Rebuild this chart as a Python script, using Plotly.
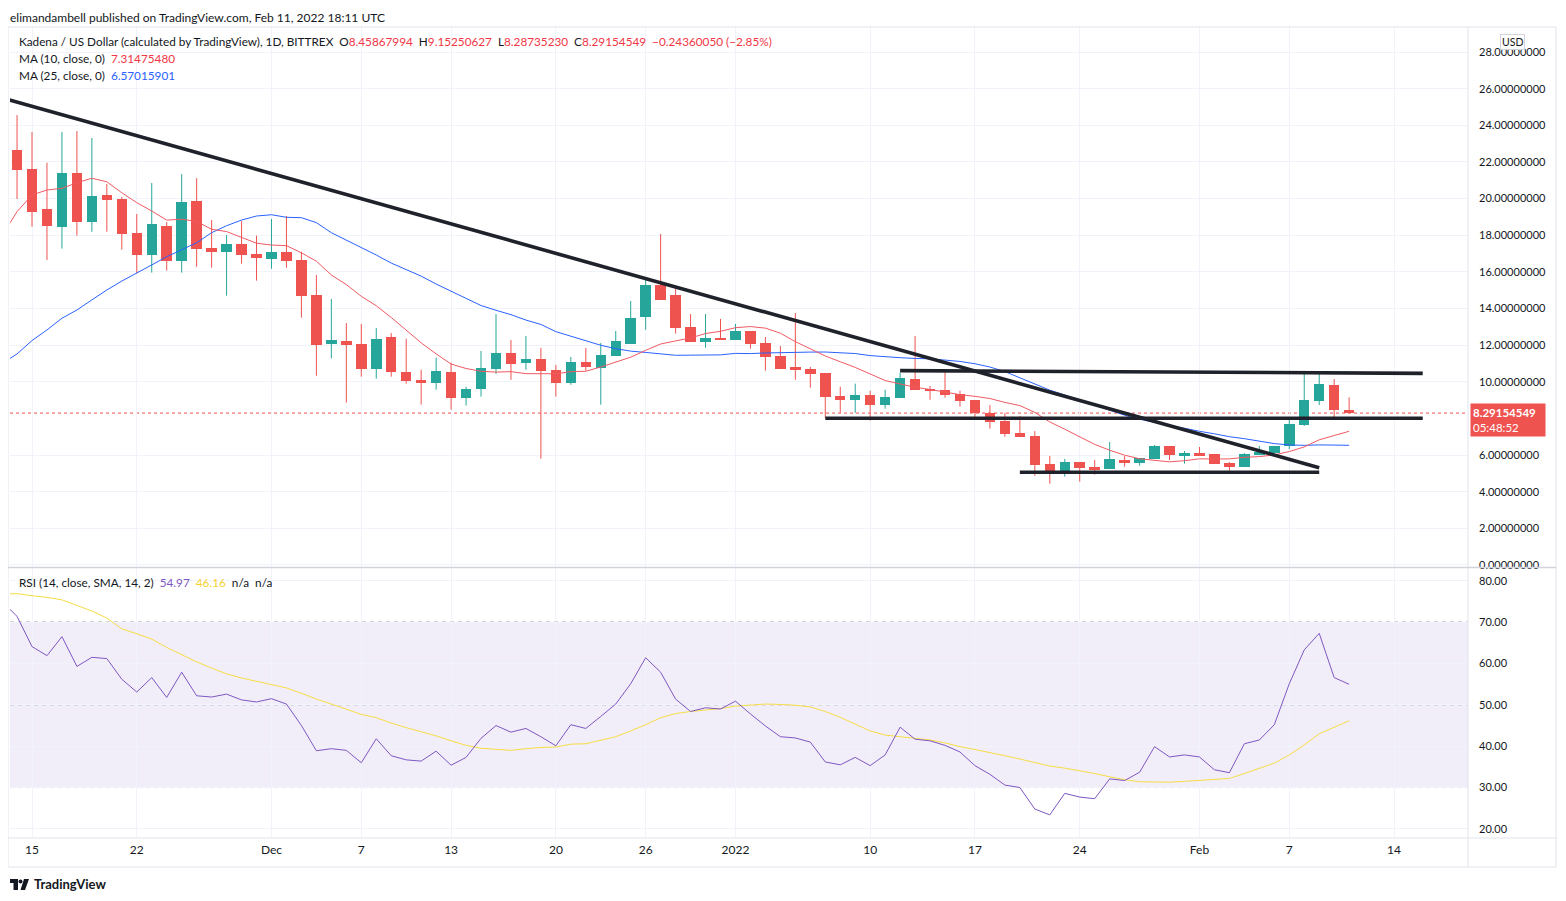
import pandas as pd
import plotly.graph_objects as go

# ---------------- data ----------------
dates = pd.date_range("2021-11-14", "2022-02-11", freq="D")
line_dates = pd.date_range("2021-11-13", "2022-02-11", freq="D")

opens = [22.65, 21.62, 19.43, 18.47, 21.40, 18.74, 20.20, 19.98, 18.12, 16.94,
         18.50, 16.61, 19.87, 17.30, 17.10, 17.52, 16.99, 16.72, 17.09, 16.65,
         14.74, 12.08, 12.23, 12.06, 10.72, 12.45, 10.55, 10.11, 9.95, 10.55,
         9.13, 9.62, 10.72, 11.57, 11.04, 11.24, 10.64, 9.95, 11.08, 10.77,
         11.43, 12.08, 13.55, 15.28, 14.74, 12.99, 12.19, 12.39, 12.30, 12.77,
         12.12, 11.41, 10.81, 10.70, 10.48, 9.22, 9.02, 9.28, 8.75, 9.13,
         10.15, 9.61, 9.54, 9.33, 9.01, 8.30, 7.86, 7.21, 7.04, 5.51,
         4.98, 5.62, 5.35, 5.26, 5.73, 5.58, 5.80, 6.50, 6.00, 6.10,
         6.06, 5.57, 5.37, 6.00, 6.11, 6.50, 7.64, 8.95, 9.83, 8.45867994]
highs = [24.56, 23.64, 21.96, 23.64, 23.69, 23.31, 20.80, 20.10, 19.16, 20.85,
         18.72, 21.34, 21.12, 18.83, 18.01, 18.78, 17.98, 18.89, 19.05, 17.10,
         15.83, 14.52, 13.21, 13.16, 12.94, 12.66, 12.35, 10.66, 11.32, 11.04,
         9.73, 11.68, 13.70, 12.28, 12.50, 11.85, 10.92, 11.35, 11.85, 12.12,
         12.77, 14.41, 15.67, 18.07, 15.25, 13.70, 13.70, 13.43, 13.16, 12.77,
         12.45, 11.95, 13.76, 10.81, 10.48, 9.73, 9.90, 9.51, 9.57, 10.50,
         12.50, 9.77, 10.59, 9.51, 9.01, 8.73, 8.30, 8.13, 7.31, 5.95,
         5.79, 5.62, 5.73, 6.71, 5.95, 5.84, 6.55, 6.50, 6.22, 6.44,
         6.06, 5.62, 6.11, 6.50, 6.50, 8.08, 10.59, 10.48, 10.15, 9.15250627]
lows = [19.98, 18.47, 16.65, 17.27, 17.98, 18.19, 18.19, 17.21, 15.92, 15.96,
        16.07, 15.96, 16.28, 16.23, 14.70, 16.45, 15.52, 16.17, 16.23, 13.50,
        10.33, 11.28, 8.86, 10.28, 10.17, 10.28, 9.90, 8.75, 9.57, 8.48,
        8.70, 9.19, 10.44, 10.11, 10.66, 5.80, 9.19, 9.84, 10.61, 8.75,
        11.43, 12.08, 12.84, 14.48, 12.63, 12.19, 11.86, 12.30, 12.30, 11.81,
        10.61, 10.72, 10.11, 9.68, 8.04, 8.31, 8.31, 7.88, 8.53, 9.13,
        9.57, 9.02, 9.13, 8.64, 8.04, 7.44, 7.00, 7.00, 4.87, 4.44,
        4.82, 4.55, 4.93, 5.26, 5.37, 5.42, 5.80, 5.73, 5.53, 6.00,
        5.53, 5.15, 5.37, 6.00, 6.11, 6.33, 7.59, 8.73, 8.04, 8.28735230]
closes = [21.56, 19.29, 18.52, 21.40, 18.74, 20.14, 19.94, 18.08, 16.94, 18.61,
          16.61, 19.81, 17.27, 17.10, 17.52, 16.94, 16.77, 17.09, 16.61, 14.70,
          12.03, 12.28, 12.03, 10.72, 12.34, 10.55, 10.06, 9.95, 10.59, 9.13,
          9.61, 10.75, 11.57, 10.99, 11.24, 10.61, 9.95, 11.08, 10.82, 11.46,
          12.23, 13.48, 15.28, 14.48, 12.95, 12.19, 12.39, 12.30, 12.77, 12.08,
          11.37, 10.72, 10.66, 10.44, 9.19, 9.02, 9.28, 8.75, 9.19, 10.19,
          9.57, 9.51, 9.30, 8.97, 8.28, 7.82, 7.17, 7.00, 5.47, 4.98,
          5.62, 5.31, 5.20, 5.79, 5.58, 5.84, 6.50, 6.00, 6.10, 6.00,
          5.53, 5.37, 6.06, 6.17, 6.50, 7.70, 9.01, 9.88, 8.46, 8.29154549]

# moving-average values before enough in-window history exists
ma10_head = [17.98, 19.29, 20.20, 20.47, 20.56, 20.87, 21.11, 20.92, 20.32, 19.78]
ma25_head = [11.00, 11.52, 12.25, 12.83, 13.47, 13.92, 14.47, 15.01, 15.50, 15.92,
             16.38, 16.83, 17.19, 17.59, 18.14, 18.52, 18.83, 19.05, 19.12, 18.98,
             18.96, 18.69, 18.14, 17.74, 17.34]

rsi_vals = [75.0, 71.4, 64.1, 61.9, 66.5, 59.3, 61.5, 61.2, 56.2, 53.1,
            56.6, 51.8, 57.9, 52.2, 51.9, 52.6, 51.2, 50.7, 51.5, 50.2,
            45.0, 38.9, 39.4, 39.0, 36.0, 41.8, 37.7, 36.7, 36.4, 38.8,
            35.4, 37.3, 41.9, 45.0, 43.4, 44.3, 42.3, 40.1, 45.2, 44.3,
            47.2, 50.2, 55.1, 61.4, 57.9, 51.4, 48.4, 49.3, 49.0, 50.9,
            47.8, 44.9, 42.3, 42.0, 41.0, 36.2, 35.5, 37.3, 35.3, 37.9,
            44.6, 41.7, 41.3, 40.2, 38.6, 35.3, 33.2, 30.6, 30.0, 24.8,
            23.4, 28.6, 27.7, 27.3, 32.1, 31.7, 33.7, 39.9, 37.4, 37.9,
            37.4, 34.3, 33.6, 40.6, 41.5, 45.2, 55.1, 63.3, 67.3, 56.6, 54.97]
rsi_sma = [76.8, 76.9, 76.4, 76.0, 75.4, 74.0, 72.7, 71.0, 68.4, 67.2,
           65.9, 63.9, 62.1, 60.4, 58.9, 57.5, 56.5, 55.7, 54.8, 54.1,
           52.8, 51.4, 50.2, 49.0, 47.7, 46.9, 45.6, 44.5, 43.5, 42.5,
           41.3, 40.2, 39.5, 39.2, 39.0, 39.4, 39.7, 39.8, 40.5, 40.6,
           41.4, 42.3, 43.7, 45.2, 46.9, 47.9, 48.4, 48.8, 49.1, 49.7,
           50.0, 50.2, 50.1, 49.9, 49.5, 48.4, 47.0, 45.4, 43.7, 42.7,
           42.3, 41.8, 41.5, 40.8, 39.9, 39.2, 38.5, 37.7, 36.9, 36.1,
           35.2, 34.7, 34.1, 33.4, 32.6, 31.9, 31.4, 31.3, 31.3, 31.5,
           31.7, 31.9, 32.2, 33.4, 34.7, 35.9, 37.9, 40.3, 43.0, 44.5, 46.16]

# user-drawn trend lines: (date, price) end points
trend_down = [("2021-11-13", 25.50), ("2022-02-09", 5.31)]
resistance = [("2022-01-12", 10.61), ("2022-02-15 22:00", 10.46)]
support_mid = [("2022-01-07", 8.01), ("2022-02-15 22:00", 8.01)]
support_low = [("2022-01-20", 5.06), ("2022-02-09", 5.06)]

x_tick_dates = ["2021-11-15", "2021-11-22", "2021-12-01", "2021-12-07", "2021-12-13",
                "2021-12-20", "2021-12-26", "2022-01-01", "2022-01-10", "2022-01-17",
                "2022-01-24", "2022-02-01", "2022-02-07", "2022-02-14"]
x_tick_text = ["15", "22", "Dec", "7", "13", "20", "26", "2022", "10", "17", "24", "Feb", "7", "14"]
# 8.00000000 is hidden behind the last-price label in the reference
price_ticks = [0, 2, 4, 6, 10, 12, 14, 16, 18, 20, 22, 24, 26, 28]
rsi_ticks = [20, 30, 40, 50, 60, 70, 80]

# ---------------- derived ----------------
cs = pd.Series(closes)
ma10 = ma10_head + list(cs.rolling(10).mean().iloc[9:])
ma25 = ma25_head + list(cs.rolling(25).mean().iloc[24:])

UP, DOWN = "#26a69a", "#ef5350"
DAY_MS = 86400000

fig = go.Figure()

# wicks
for up in (True, False):
    wx, wy = [], []
    for d, o, h, l, c in zip(dates, opens, highs, lows, closes):
        if (c >= o) == up:
            wx += [d, d, None]
            wy += [l, h, None]
    fig.add_trace(go.Scatter(x=wx, y=wy, mode="lines", line=dict(color=UP if up else DOWN, width=1),
                             hoverinfo="skip", xaxis="x", yaxis="y"))
# bodies
for up in (True, False):
    bx, bb, bh = [], [], []
    for d, o, c in zip(dates, opens, closes):
        if (c >= o) == up:
            bx.append(d)
            bb.append(min(o, c))
            bh.append(max(abs(c - o), 0.06))
    fig.add_trace(go.Bar(x=bx, y=bh, base=bb, width=0.7 * DAY_MS,
                         marker=dict(color=UP if up else DOWN, line=dict(width=0)),
                         hoverinfo="skip", xaxis="x", yaxis="y"))

# moving averages
fig.add_trace(go.Scatter(x=line_dates, y=ma25, mode="lines", line=dict(color="#2962ff", width=1),
                         hoverinfo="skip", xaxis="x", yaxis="y"))
fig.add_trace(go.Scatter(x=line_dates, y=ma10, mode="lines", line=dict(color="#f05a63", width=1),
                         hoverinfo="skip", xaxis="x", yaxis="y"))

# trend lines
for seg in (trend_down, resistance, support_mid, support_low):
    fig.add_trace(go.Scatter(x=[p[0] for p in seg], y=[p[1] for p in seg], mode="lines",
                             line=dict(color="#1f222a", width=3.6), hoverinfo="skip",
                             xaxis="x", yaxis="y"))

# RSI
fig.add_trace(go.Scatter(x=line_dates, y=rsi_sma, mode="lines", line=dict(color="#f7dc45", width=1),
                         hoverinfo="skip", xaxis="x", yaxis="y2"))
fig.add_trace(go.Scatter(x=line_dates, y=rsi_vals, mode="lines", line=dict(color="#7e57c2", width=1),
                         hoverinfo="skip", xaxis="x", yaxis="y2"))


def xp(px):
    return (px - 10) / 1458.0


def yp(py):
    return (838 - py) / 811.0


BORDER = "#e0e3eb"
shapes = [
    # RSI band and levels
    dict(type="rect", xref="x domain", yref="y2", x0=0, x1=1, y0=30, y1=70,
         fillcolor="rgba(126,87,194,0.10)", line=dict(width=0), layer="below"),
    dict(type="line", xref="x domain", yref="y2", x0=0, x1=1, y0=70, y1=70,
         line=dict(color="#787b86", width=1, dash="4px,4px"), layer="below"),
    dict(type="line", xref="x domain", yref="y2", x0=0, x1=1, y0=50, y1=50,
         line=dict(color="rgba(120,123,134,0.5)", width=1, dash="4px,4px"), layer="below"),
    dict(type="line", xref="x domain", yref="y2", x0=0, x1=1, y0=30, y1=30,
         line=dict(color="#787b86", width=1, dash="4px,4px"), layer="below"),
    # last price line
    dict(type="line", xref="x domain", yref="y", x0=0, x1=1, y0=closes[-1], y1=closes[-1],
         line=dict(color=DOWN, width=1, dash="dot"), layer="below"),
    # frame
    dict(type="rect", xref="paper", yref="paper", x0=xp(8), x1=xp(1556), y0=yp(867), y1=yp(27),
         line=dict(color=BORDER, width=1)),
    dict(type="line", xref="paper", yref="paper", x0=1, x1=1, y0=yp(867), y1=yp(27),
         line=dict(color=BORDER, width=1)),
    dict(type="line", xref="paper", yref="paper", x0=xp(8), x1=xp(1556), y0=yp(838), y1=yp(838),
         line=dict(color=BORDER, width=1)),
    dict(type="line", xref="paper", yref="paper", x0=xp(8), x1=xp(1556), y0=yp(567.5), y1=yp(567.5),
         line=dict(color="#d1d4dc", width=1.5)),
    # TradingView logo
    dict(type="rect", xref="paper", yref="paper", x0=xp(10), x1=xp(18), y0=yp(883), y1=yp(879),
         fillcolor="#131722", line=dict(width=0)),
    dict(type="rect", xref="paper", yref="paper", x0=xp(13.5), x1=xp(18), y0=yp(890), y1=yp(879),
         fillcolor="#131722", line=dict(width=0)),
    dict(type="circle", xref="paper", yref="paper", x0=xp(18.5), x1=xp(22.5), y0=yp(883.5), y1=yp(879.5),
         fillcolor="#131722", line=dict(width=0)),
    dict(type="path", xref="paper", yref="paper",
         path="M {} {} L {} {} L {} {} L {} {} Z".format(xp(24), yp(879), xp(29), yp(879),
                                                       xp(25), yp(890), xp(20.5), yp(890)),
         fillcolor="#131722", line=dict(width=0)),
]

RED_T = "#f23645"
NB = "\u00a0"
leg1 = ("Kadena / US Dollar (calculated by TradingView), 1D, BITTREX" + NB + NB +
        "O<span style='color:%s'>8.45867994</span>" % RED_T + NB + NB +
        "H<span style='color:%s'>9.15250627</span>" % RED_T + NB + NB +
        "L<span style='color:%s'>8.28735230</span>" % RED_T + NB + NB +
        "C<span style='color:%s'>8.29154549</span>" % RED_T + NB + NB +
        "<span style='color:%s'>\u22120.24360050 (\u22122.85%%)</span>" % RED_T)
leg2 = "MA (10, close, 0)" + NB + NB + "<span style='color:%s'>7.31475480</span>" % RED_T
leg3 = "MA (25, close, 0)" + NB + NB + "<span style='color:#2962ff'>6.57015901</span>"
leg4 = ("RSI (14, close, SMA, 14, 2)" + NB + NB + "<span style='color:#7e57c2'>54.97</span>" + NB + NB +
        "<span style='color:#f5d130'>46.16</span>" + NB + NB + "n/a" + NB + NB + "n/a")

FONT = "Lato, 'Open Sans', sans-serif"
annotations = [
    dict(text="elimandambell published on TradingView.com, Feb 11, 2022 18:11 UTC",
         xref="paper", yref="paper", x=xp(9), y=yp(9), xanchor="left", yanchor="top",
         showarrow=False, borderpad=0, font=dict(size=12, color="#131722")),
    dict(text=leg1, xref="paper", yref="paper", x=xp(17), y=yp(42), xanchor="left", yanchor="middle",
         showarrow=False, font=dict(size=11.75, color="#131722")),
    dict(text=leg2, xref="paper", yref="paper", x=xp(17), y=yp(58.5), xanchor="left", yanchor="middle",
         showarrow=False, font=dict(size=11.75, color="#131722")),
    dict(text=leg3, xref="paper", yref="paper", x=xp(17), y=yp(75), xanchor="left", yanchor="middle",
         showarrow=False, font=dict(size=11.75, color="#131722")),
    dict(text=leg4, xref="paper", yref="paper", x=xp(17), y=yp(582), xanchor="left", yanchor="middle",
         showarrow=False, font=dict(size=11.75, color="#131722")),
    dict(text="<b>%.8f</b><br>05:48:52" % closes[-1], xref="paper", yref="y", x=xp(1470), y=closes[-1],
         xanchor="left", yanchor="middle", yshift=-7, showarrow=False, align="left",
         bgcolor=DOWN, borderpad=2, width=70, font=dict(size=11.5, color="white")),
    dict(text="USD", xref="paper", yref="paper", x=xp(1512), y=yp(42), xanchor="center", yanchor="middle",
         showarrow=False, bgcolor="white", bordercolor="#d1d4dc", borderwidth=1, borderpad=1,
         font=dict(size=10.5, color="#131722")),
    dict(text="<b>TradingView</b>", xref="paper", yref="paper", x=xp(32), y=yp(884.5), xanchor="left",
         yanchor="middle", showarrow=False, font=dict(size=13, color="#131722")),
]

# the page body adds an 8px offset, so the figure is 8px smaller and margins shifted
fig.update_layout(
    width=1558, height=893,
    margin=dict(l=2, r=98, t=19, b=63),
    paper_bgcolor="white", plot_bgcolor="white",
    showlegend=False, barmode="overlay", bargap=0,
    font=dict(family=FONT, size=11, color="#131722"),
    xaxis=dict(type="date", range=["2021-11-13 12:43", "2022-02-18 22:35"], anchor="y2",
               tickvals=x_tick_dates, ticktext=x_tick_text, showgrid=True, gridcolor="#f0f3fa",
               ticks="", showline=False, zeroline=False, ticklabelstandoff=3,
               tickfont=dict(size=12), rangeslider=dict(visible=False)),
    yaxis=dict(domain=[0.3342, 1], range=[-0.11, 29.37], side="right", anchor="x",
               tickvals=price_ticks, tickformat=".8f", showgrid=True, gridcolor="#f0f3fa",
               zeroline=False, showline=False, ticks="", ticklabelstandoff=10),
    yaxis2=dict(domain=[0, 0.3329], range=[17.8, 83.1], side="right", anchor="x",
                tickvals=rsi_ticks, tickformat=".2f", showgrid=True, gridcolor="#f0f3fa",
                zeroline=False, showline=False, ticks="", ticklabelstandoff=10),
    shapes=shapes, annotations=annotations,
)

fig.write_html("out.html")
